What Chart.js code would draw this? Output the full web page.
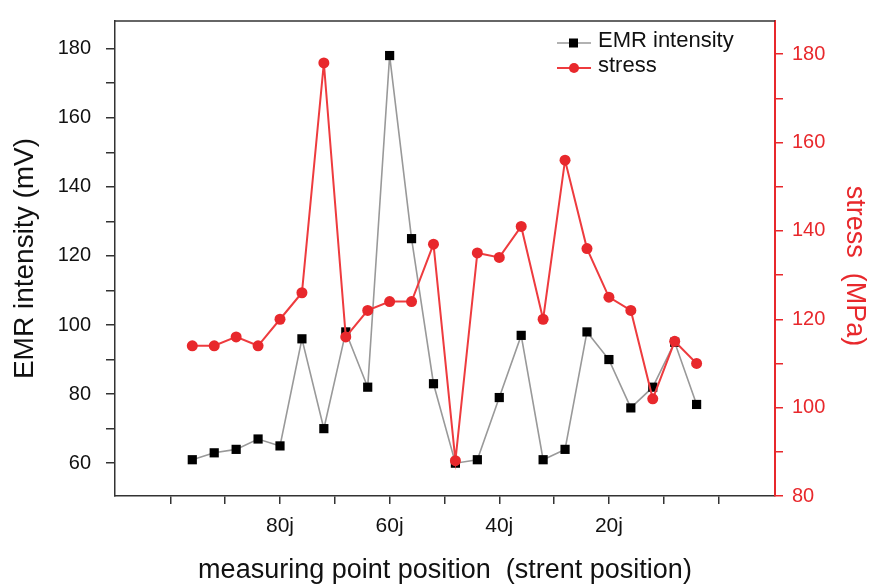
<!DOCTYPE html>
<html>
<head>
<meta charset="utf-8">
<script src="https://cdn.jsdelivr.net/npm/chart.js@4/dist/chart.umd.min.js"></script>
<style>
  html, body { margin: 0; padding: 0; background: #fff; }
</style>
</head>
<body>
<canvas id="chart" width="871" height="584"></canvas>
<script>
// measuring point positions (j), read left to right
const positions = [96, 92, 88, 84, 80, 76, 72, 68, 64, 60, 56, 52, 48, 44, 40, 36, 32, 28, 24, 20, 16, 12, 8, 4];
// EMR intensity in mV (left axis)
const emrIntensity = [61, 63, 64, 67, 65, 96, 70, 98, 82, 178, 125, 83, 60, 61, 79, 97, 61, 64, 98, 90, 76, 82, 95, 77];
// stress in MPa (right axis)
const stress = [114, 114, 116, 114, 120, 126, 178, 116, 122, 124, 124, 137, 88, 135, 134, 141, 120, 156, 136, 125, 122, 102, 115, 110];
// only these x ticks carry a label
const xTickLabels = { 80: '80j', 60: '60j', 40: '40j', 20: '20j' };

const FONT = "'Liberation Sans', Arial, sans-serif";
const RED = '#e8282c';
const AXIS = '#333';
const TEXT = '#111';

const onlyTens = scale => {
    scale.ticks = scale.ticks.filter(t => Math.abs(t.value % 10) < 1e-6);
};

// fixed axis sizes so the plot area sits where the original one does
const fixSize = (w, h) => scale => {
    if (w) scale.width = w;
    if (h) scale.height = h;
    scale.paddingTop = 0;
    scale.paddingBottom = 0;
    scale.paddingLeft = 0;
    scale.paddingRight = 0;
};

const frameTop = {
    id: 'frameTop',
    afterDraw(chart) {
        const { ctx, chartArea } = chart;
        ctx.save();
        ctx.strokeStyle = AXIS;
        ctx.lineWidth = 1.5;
        ctx.beginPath();
        ctx.moveTo(chartArea.left, chartArea.top);
        ctx.lineTo(chartArea.right, chartArea.top);
        ctx.stroke();
        ctx.restore();
    }
};

const insideLegend = {
    id: 'insideLegend',
    afterDraw(chart) {
        const { ctx, chartArea } = chart;
        const x0 = chartArea.right - 218;
        let y = chartArea.top + 22;
        chart.data.datasets.forEach(ds => {
            ctx.save();
            ctx.strokeStyle = ds.borderColor;
            ctx.lineWidth = ds.borderWidth;
            ctx.beginPath();
            ctx.moveTo(x0, y);
            ctx.lineTo(x0 + 34, y);
            ctx.stroke();
            ctx.fillStyle = ds.pointBackgroundColor;
            if (ds.pointStyle === 'rect') {
                ctx.fillRect(x0 + 12, y - 4.5, 9, 9);
            } else {
                ctx.beginPath();
                ctx.arc(x0 + 17, y, 5, 0, Math.PI * 2);
                ctx.fill();
            }
            ctx.fillStyle = TEXT;
            ctx.font = '22px ' + FONT;
            ctx.textBaseline = 'middle';
            ctx.fillText(ds.label, x0 + 41, y - 2);
            ctx.restore();
            y += 25;
        });
    }
};

new Chart(document.getElementById('chart'), {
    type: 'line',
    data: {
        datasets: [
            {
                label: 'EMR intensity',
                data: positions.map((p, i) => ({ x: p, y: emrIntensity[i] })),
                yAxisID: 'y',
                borderColor: '#999',
                borderWidth: 1.6,
                pointStyle: 'rect',
                pointRadius: 6.5,
                pointBackgroundColor: '#000',
                pointBorderColor: '#000',
                pointBorderWidth: 0,
                order: 2,
            },
            {
                label: 'stress',
                data: positions.map((p, i) => ({ x: p, y: stress[i] })),
                yAxisID: 'y1',
                borderColor: '#ee3b3e',
                borderWidth: 2,
                pointStyle: 'circle',
                pointRadius: 5.5,
                pointBackgroundColor: RED,
                pointBorderColor: RED,
                pointBorderWidth: 0,
                order: 1,
            }
        ]
    },
    options: {
        responsive: false,
        animation: false,
        layout: { padding: { top: 21, left: 0, right: 0, bottom: 0 } },
        plugins: {
            legend: { display: false },
            tooltip: { enabled: false },
        },
        scales: {
            x: {
                type: 'linear',
                reverse: true,
                min: -10.3,
                max: 110.1,
                afterBuildTicks: onlyTens,
                afterFit: fixSize(0, 88),
                ticks: {
                    stepSize: 10,
                    autoSkip: false,
                    maxRotation: 0,
                    padding: 10,
                    color: TEXT,
                    font: { family: FONT, size: 21 },
                    callback: v => xTickLabels[v] || '',
                },
                grid: { drawOnChartArea: false, tickLength: 8, color: AXIS, lineWidth: 1.5 },
                border: { color: AXIS, width: 1.5 },
                title: {
                    display: true,
                    text: 'measuring point position  (strent position)',
                    color: TEXT,
                    font: { family: FONT, size: 27 },
                    padding: { top: 0, bottom: -3 },
                },
            },
            y: {
                position: 'left',
                min: 50.5,
                max: 188,
                afterBuildTicks: onlyTens,
                afterFit: fixSize(115, 0),
                ticks: {
                    stepSize: 10,
                    autoSkip: false,
                    padding: 15,
                    color: TEXT,
                    font: { family: FONT, size: 20 },
                    callback: v => (v % 20 === 0 ? v : ''),
                },
                grid: { drawOnChartArea: false, tickLength: 9, color: AXIS, lineWidth: 1.5 },
                border: { color: AXIS, width: 1.5 },
                title: {
                    display: true,
                    text: 'EMR intensity (mV)',
                    color: TEXT,
                    font: { family: FONT, size: 28 },
                    padding: { top: 8, bottom: 0 },
                },
            },
            y1: {
                position: 'right',
                min: 80,
                max: 187.5,
                afterBuildTicks: onlyTens,
                afterFit: fixSize(96, 0),
                ticks: {
                    stepSize: 10,
                    autoSkip: false,
                    padding: 9,
                    color: RED,
                    font: { family: FONT, size: 20 },
                    callback: v => (v % 20 === 0 ? v : ''),
                },
                grid: { drawOnChartArea: false, tickLength: 8, color: RED, lineWidth: 1.5 },
                border: { color: RED, width: 2 },
                title: {
                    display: true,
                    text: '  stress  (MPa)',
                    color: RED,
                    font: { family: FONT, size: 27 },
                    padding: { top: 0, bottom: 0 },
                },
            },
        },
    },
    plugins: [frameTop, insideLegend],
});
</script>
</body>
</html>
